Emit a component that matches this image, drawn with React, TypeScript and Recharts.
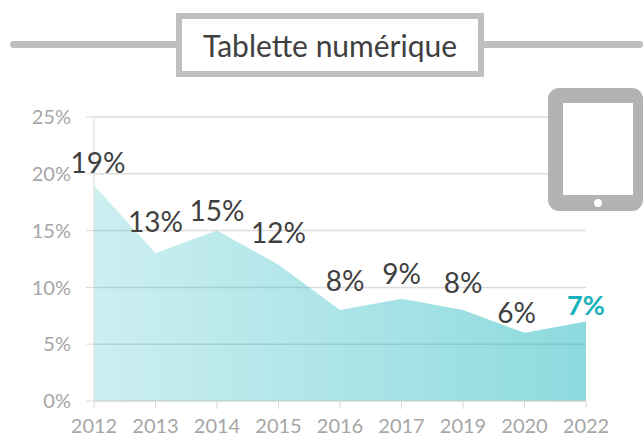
import React from "react";
import { AreaChart, Area, XAxis, YAxis, CartesianGrid, LabelList } from "recharts";

const years = ["2012", "2013", "2014", "2015", "2016", "2017", "2019", "2020", "2022"];
const shares = [19, 13, 15, 12, 8, 9, 8, 6, 7];
const yTicks = [0, 5, 10, 15, 20, 25];
const title = "Tablette numérique";
const labelDx = [4, 0, 0, 0, 5, 0, 0, -8, 0];
const labelDy = [-23, -32, -21, -33, -30, -26, -28, -21, -17];

const rows = years.map((year, i) => ({ year, share: shares[i] }));
const FONT = "Lato, 'Open Sans', sans-serif";

const PointLabel = (props: any) => {
  const { x, y, index, value } = props;
  const last = index === shares.length - 1;
  return (
    <text
      x={x + labelDx[index]}
      y={y + labelDy[index]}
      textAnchor="middle"
      dominantBaseline="central"
      fontFamily={FONT}
      fontSize={last ? 27 : 28}
      fontWeight={last ? 700 : 400}
      fill={last ? "#17b2bb" : "#404040"}
    >
      {value}%
    </text>
  );
};

export default function App() {
  return (
    <div style={{ position: "absolute", left: 0, top: 0, width: 643, height: 438, overflow: "hidden", background: "#fff" }}>
      <AreaChart width={643} height={438} data={rows} margin={{ top: 117, right: 57, bottom: 0, left: 0 }}>
        <defs>
          <linearGradient id="fade" x1="0" y1="0" x2="1" y2="0">
            <stop offset="0%" stopColor="#1ab5bd" stopOpacity={0.22} />
            <stop offset="100%" stopColor="#1ab5bd" stopOpacity={0.5} />
          </linearGradient>
        </defs>
        <CartesianGrid horizontal vertical={false} stroke="#dddddd" strokeWidth={1.5} />
        <XAxis
          dataKey="year"
          height={37}
          interval={0}
          tickSize={8}
          tickMargin={10}
          padding={{ left: 0, right: 0 }}
          stroke="#d9d9d9"
          tick={{ fill: "#a6a6a6", fontSize: 20, fontFamily: FONT }}
        />
        <YAxis
          width={94}
          domain={[0, 25]}
          ticks={yTicks}
          tickFormatter={(v: number) => `${v}%`}
          tickSize={8}
          tickMargin={15}
          stroke="#d9d9d9"
          tick={{ fill: "#a6a6a6", fontSize: 20, fontFamily: FONT }}
        />
        <Area dataKey="share" type="linear" stroke="none" fill="url(#fade)" fillOpacity={1} isAnimationActive={false} dot={false} activeDot={false}>
          <LabelList dataKey="share" content={PointLabel} />
        </Area>
      </AreaChart>

      <div style={{ position: "absolute", left: 10, top: 41, width: 633, height: 7, background: "#bfbfbf", borderRadius: 3.5 }} />
      <div
        style={{
          position: "absolute", left: 176, top: 13, width: 308, height: 64, boxSizing: "border-box",
          border: "6px solid #bfbfbf", background: "#fff", color: "#404040",
          fontFamily: FONT, fontSize: 30, textAlign: "center", lineHeight: "52px", whiteSpace: "nowrap",
        }}
      >
        {title}
      </div>
      <svg style={{ position: "absolute", left: 548, top: 88 }} width={95} height={123}>
        <rect x={0} y={0} width={95} height={123} rx={11} fill="#b3b3b3" />
        <rect x={15} y={15} width={70} height={92} fill="#fff" />
        <circle cx={50} cy={115} r={4} fill="#fff" />
      </svg>
    </div>
  );
}
